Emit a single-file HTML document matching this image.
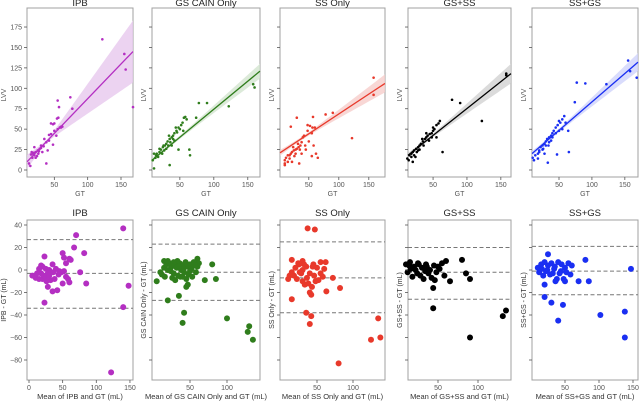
<!DOCTYPE html>
<html><head><meta charset="utf-8"><style>
body{margin:0;background:#fff;}
svg{display:block;font-family:"Liberation Sans",sans-serif;}
</style></head><body>
<svg id="chart" width="640" height="402" viewBox="0 0 640 402"></svg>
<script>
// ---------- data ----------
const titles = ["IPB","GS CAIN Only","SS Only","GS+SS","SS+GS"];
const colors = ["#b42fc2","#2f7d1c","#e8392b","#000000","#1a2ff2"];
const bands = ["#e7c8ee","#d3e5cf","#f6cdca","#d2d2d2","#cfd3fb"];
const topXDomains = [[9,168],[9,168],[2,177],[13,165],[9,170]];
const lineStart = [10,12,21,18,20];
const lineEnd = [145,121,106,118,132];
const ciRight = [38,9,11,12,11];
const topTicksY = [0,25,50,75,100,125,150,175];
const topTicksX = [50,100,150];
const botTicksY = [40,20,0,-20,-40,-60,-80];
const botTicksX = [[0,50,100,150],[50,100],[50,100],[50,100],[50,100,150]];
const botXZero = [29,153,281,398,531];
const botXScale = [0.673,0.74,0.72,0.8,0.68];
const loaMean = [-3,-2,-7,-2,-1];
const loaUpper = [27,23,25,20,21];
const loaLower = [-34,-27,-38,-26,-22];
const top0=[[122,160],[155,142],[157,123],[168,77],[74,89],[55,85],[57,77],[77,75],[54,63],[56,64],[50,57],[45,57],[48,56],[60,53],[58,52],[55,50],[50,48],[45,44],[42,43],[53,42],[48,31],[35,38],[38,34],[30,30],[28,26],[25,24],[22,22],[18,20],[20,18],[15,19],[17,15],[22,15],[26,20],[32,22],[40,24],[38,8],[12,8],[14,5],[20,28],[30,27],[16,22],[24,17],[34,29],[42,36],[60,52],[62,53],[19,21],[27,23]];
const top1=[[158,105],[160,101],[122,78],[90,82],[78,82],[74,64],[58,65],[56,64],[60,62],[64,25],[65,18],[48,25],[35,6],[12,2],[10,12],[12,20],[15,18],[20,22],[22,25],[25,28],[28,30],[30,32],[32,35],[35,38],[38,40],[40,42],[42,45],[45,48],[48,52],[50,50],[52,55],[55,48],[18,16],[24,20],[27,24],[33,30],[36,34],[40,38],[30,26],[26,30],[20,26],[14,15],[16,20],[44,52],[46,46],[54,58],[38,30],[42,36],[34,42]];
const top2=[[158,113],[158,92],[122,39],[90,70],[78,68],[30,64],[57,65],[20,53],[48,55],[52,54],[56,52],[60,52],[55,45],[48,48],[42,42],[40,40],[38,34],[36,30],[33,28],[30,26],[28,25],[25,24],[22,22],[20,20],[18,18],[15,18],[12,15],[10,12],[10,8],[10,6],[15,10],[22,10],[34,8],[55,17],[65,15],[62,20],[58,30],[45,25],[38,20],[28,20],[24,28],[32,32],[35,25],[18,14],[26,17],[44,30],[50,35]];
const top3=[[158,118],[158,116],[122,60],[90,82],[78,86],[64,22],[58,57],[55,55],[52,50],[50,48],[48,45],[45,44],[42,42],[40,40],[38,38],[35,35],[32,32],[30,30],[28,28],[25,26],[22,24],[20,22],[18,20],[15,18],[12,14],[14,12],[20,10],[24,16],[30,25],[36,30],[44,36],[48,40],[55,40],[40,45],[34,38],[26,22],[18,16],[60,60],[50,52],[22,18],[28,24]];
const top4=[[155,134],[158,121],[168,113],[122,105],[90,106],[77,107],[74,83],[64,48],[65,22],[47,19],[33,9],[10,15],[12,12],[14,18],[18,20],[20,22],[22,28],[25,30],[28,32],[30,35],[32,38],[35,40],[38,42],[40,45],[42,48],[45,52],[48,55],[50,60],[52,58],[55,62],[58,66],[60,58],[55,50],[50,48],[45,45],[40,40],[35,34],[30,30],[25,25],[20,24],[18,14],[28,20],[38,36],[26,26],[34,30]];
const bot0=[[140,37],[70,31],[67,20],[82,15],[50,15],[60,10],[62,9],[23,12],[52,11],[55,6],[18,4],[20,3],[25,1],[30,0],[35,5],[40,1],[45,-1],[48,-2],[52,-1],[55,-6],[58,-8],[60,-11],[50,-12],[85,-12],[76,-2],[148,-14],[35,-19],[42,-18],[28,-15],[23,-29],[140,-33],[122,-91],[5,-5],[10,-7],[15,-8],[18,-3],[20,-8],[22,-5],[25,-6],[28,-3],[32,-9],[38,-8],[44,-4],[15,1],[12,-3],[26,-10],[30,-5],[36,-2]];
const bot1=[[60,10],[80,5],[85,-8],[70,-9],[45,-8],[35,-23],[20,-27],[42,-38],[40,-47],[100,-43],[130,-50],[128,-55],[135,-62],[5,-10],[10,-2],[15,8],[15,2],[18,5],[20,0],[22,6],[25,3],[28,-3],[30,5],[32,2],[34,-5],[36,6],[38,0],[40,4],[42,-2],[44,7],[46,3],[48,-4],[50,5],[52,1],[55,7],[58,-2],[60,3],[62,6],[26,-7],[30,-9],[45,-15],[47,-13],[12,-4],[16,-6],[24,-1],[33,8],[37,-6],[41,1],[53,-6],[57,4],[20,8],[28,7],[35,3],[40,-6],[50,-1],[24,4]];
const bot2=[[37,37],[47,36],[15,9],[30,8],[55,7],[62,7],[10,-8],[15,-2],[20,2],[25,5],[30,0],[35,3],[40,-3],[45,5],[50,2],[55,-3],[60,1],[18,-5],[22,-8],[28,-3],[33,-13],[38,-12],[43,-15],[48,-10],[40,-20],[42,-22],[15,-26],[35,-38],[42,-41],[40,-48],[63,-19],[72,-7],[82,-16],[135,-43],[125,-62],[138,-60],[80,-83],[12,-5],[26,-2],[32,5],[36,-7],[46,-5],[52,-9],[58,-6],[24,6],[30,-10],[44,3]];
const bot3=[[10,5],[15,7],[20,3],[25,6],[30,2],[35,5],[40,0],[45,4],[50,3],[55,6],[60,8],[12,-2],[18,-6],[22,0],[28,-5],[32,-8],[38,-3],[42,-7],[48,-2],[52,1],[58,-5],[65,-10],[44,-16],[44,-34],[80,9],[85,-3],[90,-8],[131,-41],[135,-36],[90,-60],[14,4],[24,-3],[34,-1],[46,-9],[26,5],[36,3],[16,1]];
const bot4=[[80,9],[25,14],[147,1],[85,-10],[70,-10],[20,-13],[20,-24],[30,-29],[47,-31],[40,-45],[102,-40],[138,-37],[138,-60],[10,2],[15,5],[20,7],[25,4],[30,6],[35,3],[40,7],[45,5],[50,2],[55,6],[60,4],[12,-2],[18,-5],[22,-1],[28,-4],[32,-3],[38,-8],[42,-3],[48,-8],[52,-2],[58,-4],[16,1],[24,0],[34,1],[44,-1],[36,-10],[50,-10]];
const topPts=[top0,top1,top2,top3,top4];
const botPts=[bot0,bot1,bot2,bot3,bot4];

// ---------- layout ----------
const NS="http://www.w3.org/2000/svg";
const svg=document.getElementById('chart');
const frames=[[27,133],[152,260],[280,385],[408,511],[532,638]];
const TOP={y0:8,y1:177};
const BOT={y0:220,y1:380};
const ty=v=>170-v*0.817;
const by=v=>270-v*1.125;
function mk(tag,attrs,parent){const e=document.createElementNS(NS,tag);for(const k in attrs)e.setAttribute(k,attrs[k]);(parent||svg).appendChild(e);return e;}
function txt(s,attrs,parent){const e=mk('text',attrs,parent);e.textContent=s;return e;}

for(let p=0;p<5;p++){
  const [L,R]=frames[p];
  const [xa,xb]=topXDomains[p];
  const tx=v=>L+(v-xa)/(xb-xa)*(R-L);
  // ---- top panel ----
  const g=mk('g',{});
  
  
  mk('rect',{x:L,y:TOP.y0,width:R-L,height:TOP.y1-TOP.y0,fill:'#fff',stroke:'#a0a0a0','stroke-width':1},g);
  const t=txt(titles[p],{x:(L+R)/2,y:6,'font-size':9.5,'text-anchor':'middle',fill:'#222'},g);
  
  
  // band + line
  const slope=(lineEnd[p]-lineStart[p])/(xb-xa);
  const lv=x=>lineStart[p]+slope*(x-xa);
  const xc=38, w0=2;
  const s=(xb-xc)/Math.sqrt(Math.max((ciRight[p]/w0)**2-1,0.01));
  const hw=x=>w0*Math.sqrt(1+((x-xc)/s)**2);
  let up=[],lo=[];
  for(let i=0;i<=40;i++){const x=xa+(xb-xa)*i/40;up.push(tx(x)+','+ty(lv(x)+hw(x)));lo.unshift(tx(x)+','+ty(lv(x)-hw(x)));}
  const band=mk('polygon',{points:up.concat(lo).join(' '),fill:bands[p],opacity:0.8},g);
  
  
  const ln=mk('line',{x1:tx(xa),y1:ty(lv(xa)),x2:tx(xb),y2:ty(lv(xb)),stroke:colors[p],'stroke-width':1.3},g);
  
  
  for(const [x,y] of topPts[p]){
    const c=mk('circle',{cx:tx(x),cy:ty(y),r:1.3,fill:colors[p]},g);
    
    
  }
  for(const v of topTicksY){
    mk('line',{x1:L-3,y1:ty(v),x2:L,y2:ty(v),stroke:'#555','stroke-width':0.8},g);
    if(p===0){const tl=txt(v,{x:L-5,y:ty(v)+2.5,'font-size':7,'text-anchor':'end',fill:'#555'},g);
      
      }
  }
  for(const v of topTicksX){
    mk('line',{x1:tx(v),y1:TOP.y1,x2:tx(v),y2:TOP.y1+3,stroke:'#555','stroke-width':0.8},g);
    const tl=txt(v,{x:tx(v),y:TOP.y1+10,'font-size':7,'text-anchor':'middle',fill:'#555'},g);
    
    
  }
  const xl=txt('GT',{x:(L+R)/2,y:196,'font-size':7,'text-anchor':'middle',fill:'#555'},g);
  
  
  const ylx=p===0?6:L-6;
  const yl=txt('LVV',{x:ylx,y:95,'font-size':7,'text-anchor':'middle',fill:'#555',transform:`rotate(-90 ${ylx} 95)`},g);
  
  

  // ---- bottom panel ----
  const bx=v=>botXZero[p]+v*botXScale[p];
  const g2=mk('g',{});
  
  
  mk('rect',{x:L,y:BOT.y0,width:R-L,height:BOT.y1-BOT.y0,fill:'#fff',stroke:'#a0a0a0','stroke-width':1},g2);
  const t2=txt(titles[p],{x:(L+R)/2,y:216,'font-size':9.5,'text-anchor':'middle',fill:'#222'},g2);
  
  
  for(const v of [loaUpper[p],loaMean[p],loaLower[p]]){
    const d=mk('line',{x1:L,y1:by(v),x2:R,y2:by(v),stroke:'#777','stroke-width':1,'stroke-dasharray':'4,2.5'},g2);
    
    
  }
  for(const [x,y] of botPts[p]){
    const c=mk('circle',{cx:bx(x),cy:by(y),r:3,fill:colors[p]},g2);
    
    
  }
  for(const v of botTicksY){
    mk('line',{x1:L-3,y1:by(v),x2:L,y2:by(v),stroke:'#555','stroke-width':0.8},g2);
    if(p===0){const tl=txt(v===0?'0':(v<0?'\u2212'+(-v):v),{x:L-5,y:by(v)+2.5,'font-size':7,'text-anchor':'end',fill:'#555'},g2);
      
      }
  }
  for(const v of botTicksX[p]){
    mk('line',{x1:bx(v),y1:BOT.y1,x2:bx(v),y2:BOT.y1+3,stroke:'#555','stroke-width':0.8},g2);
    const tl=txt(v,{x:bx(v),y:BOT.y1+10,'font-size':7,'text-anchor':'middle',fill:'#555'},g2);
    
    
  }
  const xl2=txt('Mean of '+titles[p]+' and GT (mL)',{x:(L+R)/2,y:399,'font-size':7.5,'text-anchor':'middle',fill:'#333'},g2);
  
  
  const ylx2=p===0?6:L-6;
  const yl2=txt(titles[p]+' - GT (mL)',{x:ylx2,y:300,'font-size':7,'text-anchor':'middle',fill:'#333',transform:`rotate(-90 ${ylx2} 300)`},g2);
  
  
}
</script>
</body></html>
